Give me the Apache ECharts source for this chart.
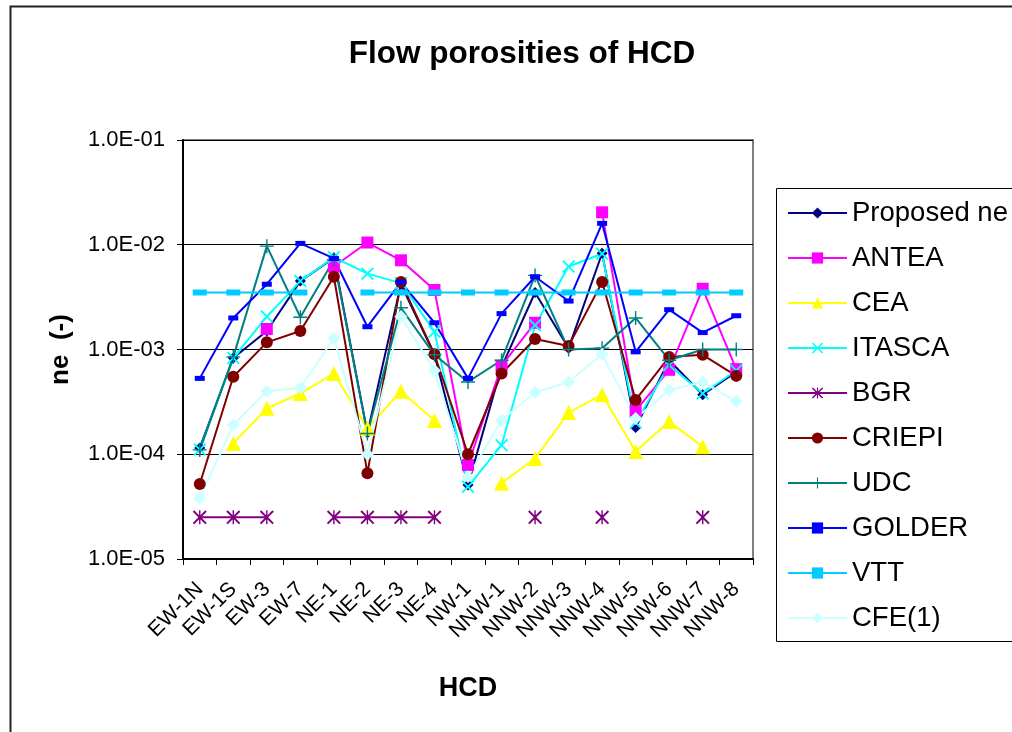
<!DOCTYPE html>
<html>
<head>
<meta charset="utf-8">
<script src="https://cdn.jsdelivr.net/npm/echarts@6/dist/echarts.min.js"></script>
<style>
html,body{margin:0;padding:0;background:#fff;}
#chart{width:1012px;height:732px;}
</style>
</head>
<body>
<div id="chart"></div>
<script>
const categories = ['EW-1N','EW-1S','EW-3','EW-7','NE-1','NE-2','NE-3','NE-4','NW-1','NNW-1','NNW-2','NNW-3','NNW-4','NNW-5','NNW-6','NNW-7','NNW-8'];
const yTicks = [1e-5, 1e-4, 1e-3, 1e-2, 1e-1];

const proposedNe = [1.15e-4, 8.3e-4, 1.5e-3, 4.5e-3, 7.5e-3, 1.6e-4, 4.2e-3, 8.9e-4, 5.1e-5, 6.8e-4, 3.5e-3, 1.03e-3, 8.3e-3, 1.8e-4, 7.9e-4, 3.7e-4, 6.1e-4];
const antea = [null, null, 1.57e-3, null, 6.2e-3, 1.05e-2, 7.1e-3, 3.7e-3, 7.9e-5, 7.0e-4, 1.8e-3, null, 2.04e-2, 2.6e-4, 6.4e-4, 3.8e-3, 6.5e-4];
const cea = [null, 1.27e-4, 2.75e-4, 3.8e-4, 5.9e-4, 1.77e-4, 4.0e-4, 2.1e-4, null, 5.3e-5, 9.1e-5, 2.5e-4, 3.7e-4, 1.06e-4, 2.05e-4, 1.18e-4, null];
const itasca = [1.11e-4, 8.3e-4, 2.06e-3, 4.5e-3, 7.6e-3, 5.3e-3, 4.3e-3, 1.48e-3, 4.9e-5, 1.22e-4, 1.7e-3, 6.2e-3, 8.2e-3, 2.0e-4, 7.1e-4, 3.8e-4, 6.3e-4];
const bgr = [2.5e-5, 2.5e-5, 2.5e-5, null, 2.5e-5, 2.5e-5, 2.5e-5, 2.5e-5, null, null, 2.5e-5, null, 2.5e-5, null, null, 2.5e-5, null];
const criepi = [5.2e-5, 5.5e-4, 1.17e-3, 1.5e-3, 4.95e-3, 6.6e-5, 4.4e-3, 9.0e-4, 1.0e-4, 5.9e-4, 1.26e-3, 1.08e-3, 4.4e-3, 3.3e-4, 8.5e-4, 8.9e-4, 5.6e-4];
const udc = [1.1e-4, 8.5e-4, 9.7e-3, 2.03e-3, 7.2e-3, 1.58e-4, 2.5e-3, 8.9e-4, 4.9e-4, 7.9e-4, 5.1e-3, 1.0e-3, 1.03e-3, 2.0e-3, 7.9e-4, 1.0e-3, 1.0e-3];
const golder = [5.3e-4, 2.0e-3, 4.2e-3, 1.03e-2, 7.4e-3, 1.65e-3, 4.4e-3, 1.8e-3, 5.3e-4, 2.2e-3, 4.95e-3, 2.9e-3, 1.6e-2, 9.5e-4, 2.4e-3, 1.45e-3, 2.1e-3];
const vtt = [3.5e-3, 3.5e-3, 3.5e-3, 3.5e-3, null, 3.5e-3, 3.5e-3, 3.5e-3, 3.5e-3, 3.5e-3, 3.5e-3, 3.5e-3, 3.5e-3, 3.5e-3, 3.5e-3, 3.5e-3, 3.5e-3];
const cfe1 = [3.8e-5, 1.9e-4, 4.0e-4, 4.3e-4, 1.28e-3, 1.0e-4, 2.06e-3, 6.3e-4, 6.1e-5, 2.1e-4, 3.9e-4, 4.9e-4, 9.0e-4, 2.2e-4, 4.1e-4, 4.9e-4, 3.2e-4];

const FONT = '"Liberation Sans", Arial, sans-serif';
const X_PATH = 'path://M0,2L2,0L10,8L18,0L20,2L12,10L20,18L18,20L10,12L2,20L0,18L8,10Z';
const PLUS_PATH = 'path://M9,0H11V9H20V11H11V20H9V11H0V9H9Z';
const STAR_PATH = 'path://M9,0H11V20H9Z M0,2L2,0L10,8L18,0L20,2L12,10L20,18L18,20L10,12L2,20L0,18L8,10Z';

function mk(name, data, color, symbol, size) {
  return {
    name: name, type: 'line', data: data,
    symbol: symbol, symbolSize: size,
    connectNulls: false,
    lineStyle: {color: color, width: 2},
    itemStyle: {color: color, opacity: 1},
    emphasis: {disabled: true},
    animation: false
  };
}

function fmt(v) {
  const e = Math.round(Math.log10(v));
  return '1.0E' + (e < 0 ? '-' : '+') + String(Math.abs(e)).padStart(2, '0');
}

const chart = echarts.init(document.getElementById('chart'));
chart.setOption({
  backgroundColor: '#fff',
  animation: false,
  title: {
    text: 'Flow porosities of HCD',
    left: 517, top: 33, textAlign: 'center',
    textStyle: {fontFamily: FONT, fontSize: 31.5, fontWeight: 'bold', color: '#000'}
  },
  graphic: [
    {type: 'rect', shape: {x: 10.5, y: 6.5, width: 1200, height: 900}, style: {fill: null, stroke: '#222', lineWidth: 2}, silent: true, z: 0},
    {type: 'rect', shape: {x: 776.5, y: 188.5, width: 400, height: 453}, style: {fill: '#fff', stroke: '#000', lineWidth: 1}, silent: true, z: 0}
  ],
  legend: {
    orient: 'vertical', left: 787, top: 198, padding: 0,
    itemWidth: 59, itemHeight: 14, itemGap: 15,
    textStyle: {fontFamily: FONT, fontSize: 27.5, color: '#000', lineHeight: 30},
    data: ['Proposed ne','ANTEA','CEA','ITASCA','BGR','CRIEPI','UDC','GOLDER','VTT','CFE(1)'],
    z: 5
  },
  grid: {left: 183, right: 259, top: 140, bottom: 173, show: true, borderColor: '#808080', borderWidth: 2, backgroundColor: '#fff'},
  xAxis: {
    type: 'category', data: categories, boundaryGap: true,
    name: 'HCD', nameLocation: 'middle', nameGap: 116,
    nameTextStyle: {fontFamily: FONT, fontSize: 27, fontWeight: 'bold', color: '#000'},
    axisLine: {lineStyle: {color: '#000', width: 2}},
    axisTick: {show: true, alignWithLabel: false, length: 6, lineStyle: {color: '#000', width: 1}},
    axisLabel: {rotate: 45, margin: 27, interval: 0, fontFamily: FONT, fontSize: 21, color: '#000'},
    splitLine: {show: false}
  },
  yAxis: {
    type: 'log', logBase: 10, min: yTicks[0], max: yTicks[yTicks.length - 1],
    name: 'ne  (-)', nameLocation: 'middle', nameGap: 109,
    nameTextStyle: {fontFamily: FONT, fontSize: 26, fontWeight: 'bold', color: '#000'},
    axisLine: {show: true, lineStyle: {color: '#000', width: 2}},
    axisTick: {show: true, length: 6, lineStyle: {color: '#000', width: 1}},
    axisLabel: {margin: 18, fontFamily: FONT, fontSize: 22, color: '#000', formatter: fmt},
    splitLine: {show: true, lineStyle: {color: '#000', width: 1}},
    minorTick: {show: false}
  },
  series: [
    mk('Proposed ne', proposedNe, '#000080', 'diamond', 11),
    mk('ANTEA', antea, '#FF00FF', 'rect', 12),
    mk('CEA', cea, '#FFFF00', 'triangle', 15),
    mk('ITASCA', itasca, '#00FFFF', X_PATH, 13),
    mk('BGR', bgr, '#800080', STAR_PATH, 14),
    mk('CRIEPI', criepi, '#800000', 'circle', 12),
    mk('UDC', udc, '#008080', PLUS_PATH, 14),
    mk('GOLDER', golder, '#0000FF', 'rect', [10, 5]),
    mk('VTT', vtt, '#00CCFF', 'rect', [14, 6]),
    mk('CFE(1)', cfe1, '#CCFFFF', 'diamond', 13)
  ]
});
</script>
</body>
</html>
